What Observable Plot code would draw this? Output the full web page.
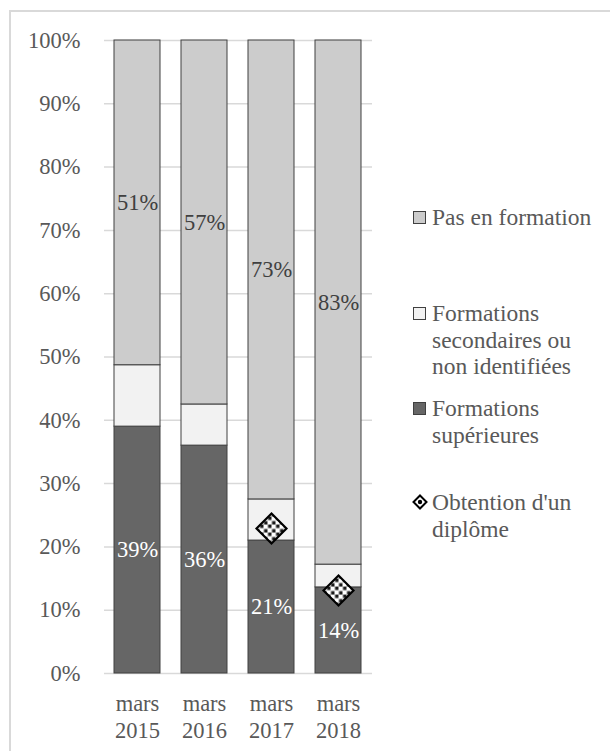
<!DOCTYPE html>
<html>
<head>
<meta charset="utf-8">
<script src="https://cdn.jsdelivr.net/npm/d3@7"></script>
<script src="https://cdn.jsdelivr.net/npm/@observablehq/plot@0.6"></script>
<style>
  body { margin: 0; background: #fff; }
  #wrap { position: relative; width: 610px; height: 751px; overflow: hidden;
          font-family: "Liberation Serif", "Times New Roman", serif; color: #595959; }
  #frame { position: absolute; left: 9px; top: 10px; right: -5px; bottom: -5px;
           border-left: 2px solid #d9d9d9; border-top: 2px solid #d9d9d9; pointer-events: none; }
  #chart { position: absolute; left: 0; top: 0; }
  .leg { position: absolute; left: 413px; font-size: 23.5px; line-height: 26.5px; }
  .leg .sw { position: absolute; left: 0; width: 11px; height: 11px; border: 1px solid #404040; }
  .leg .tx { position: absolute; left: 19px; white-space: nowrap; }
  .leg svg { position: absolute; left: -1px; }
</style>
</head>
<body>
<div id="wrap">
  <div id="chart"></div>
  <div id="frame"></div>
  <div id="legend"></div>
</div>
<script>
// ---- data ----
const periods = ["mars 2015", "mars 2016", "mars 2017", "mars 2018"];
const superieures = [39.0, 36.0, 21.0, 13.6];
const secondaires = [9.7, 6.5, 6.5, 3.6];
const pasEnFormation = [51.3, 57.5, 72.5, 82.8];
const supLabels = ["39%", "36%", "21%", "14%"];
const pasLabels = ["51%", "57%", "73%", "83%"];
const diplomePeriods = ["mars 2017", "mars 2018"];
const diplome = [22.9, 13.1];
const yTicks = [0, 10, 20, 30, 40, 50, 60, 70, 80, 90, 100];

const categories = ["Formations supérieures", "Formations secondaires ou non identifiées", "Pas en formation"];
const catColors = ["#666666", "#f2f2f2", "#cccccc"];
const legendItems = [
  {name: "Pas en formation", lines: ["Pas en formation"], color: "#cccccc", top: 204},
  {name: "Formations secondaires ou non identifiées", lines: ["Formations", "secondaires ou", "non identifiées"], color: "#f2f2f2", top: 300},
  {name: "Formations supérieures", lines: ["Formations", "supérieures"], color: "#666666", top: 395},
  {name: "Obtention d'un diplôme", lines: ["Obtention d'un", "diplôme"], color: null, top: 489}
];

// ---- table ----
const rows = [];
periods.forEach((p, i) => {
  rows.push({period: p, cat: categories[0], value: superieures[i], label: supLabels[i], lc: "white"});
  rows.push({period: p, cat: categories[1], value: secondaires[i], label: "", lc: "#404040"});
  rows.push({period: p, cat: categories[2], value: pasEnFormation[i], label: pasLabels[i], lc: "#404040"});
});
const dots = diplomePeriods.map((p, i) => ({period: p, value: diplome[i]}));

const chart = Plot.plot({
  width: 610,
  height: 751,
  marginLeft: 104,
  marginRight: 238,
  marginTop: 40,
  marginBottom: 78,
  style: {fontFamily: "'Liberation Serif', 'Times New Roman', serif", fontSize: "22.5px", color: "#595959", background: "transparent"},
  x: {domain: periods, paddingInner: 0.31, paddingOuter: 0.15, label: null},
  y: {domain: [0, 100], label: null},
  color: {domain: categories, range: catColors},
  marks: [
    Plot.gridY({ticks: yTicks, stroke: "#d9d9d9", strokeOpacity: 1, strokeWidth: 1.5}),
    Plot.barY(rows, Plot.stackY({x: "period", y: "value", fill: "cat", stroke: "#404040", strokeWidth: 1, order: null})),
    Plot.text(rows, Plot.stackY({x: "period", y: "value", text: "label", fill: "lc", order: null, fontSize: 22.5})),
    Plot.dot(dots, {x: "period", y: "value", symbol: "diamond2", r: 13.5, fill: "url(#confetti)", stroke: "black", strokeWidth: 2.2}),
    Plot.axisY({ticks: yTicks, tickFormat: d => d + "%", tickSize: 0, tickPadding: 24, fontSize: 22.5}),
    Plot.axisX({tickSize: 0, tickPadding: 19, tickFormat: d => d.replace(" ", "\n"), lineHeight: 1.18, fontSize: 22.5})
  ]
});

// pattern for the diploma markers
const defs = d3.select(chart).insert("defs", ":first-child");
const pat = defs.append("pattern").attr("id", "confetti").attr("patternUnits", "userSpaceOnUse")
  .attr("width", 8).attr("height", 8);
pat.append("rect").attr("width", 8).attr("height", 8).attr("fill", "white");
pat.append("rect").attr("x", 0.5).attr("y", 0.5).attr("width", 3.5).attr("height", 3.5).attr("fill", "#1a1a1a");
pat.append("rect").attr("x", 4.5).attr("y", 4).attr("width", 3.5).attr("height", 3.5).attr("fill", "#1a1a1a");

document.getElementById("chart").appendChild(chart);

// ---- legend (HTML) ----
const leg = d3.select("#legend");
legendItems.forEach(item => {
  const g = leg.append("div").attr("class", "leg").style("top", item.top + "px");
  if (item.color) {
    g.append("div").attr("class", "sw").style("top", "7px").style("background", item.color);
  } else {
    const s = g.append("svg").attr("width", 16).attr("height", 16).style("top", "5px");
    s.append("path").attr("d", "M8,1.5L14.5,8L8,14.5L1.5,8Z").attr("fill", "white").attr("stroke", "black").attr("stroke-width", 2);
    s.append("circle").attr("cx", 8).attr("cy", 8).attr("r", 2.2).attr("fill", "black");
  }
  g.append("div").attr("class", "tx").html(item.lines.join("<br>"));
});
</script>
</body>
</html>
